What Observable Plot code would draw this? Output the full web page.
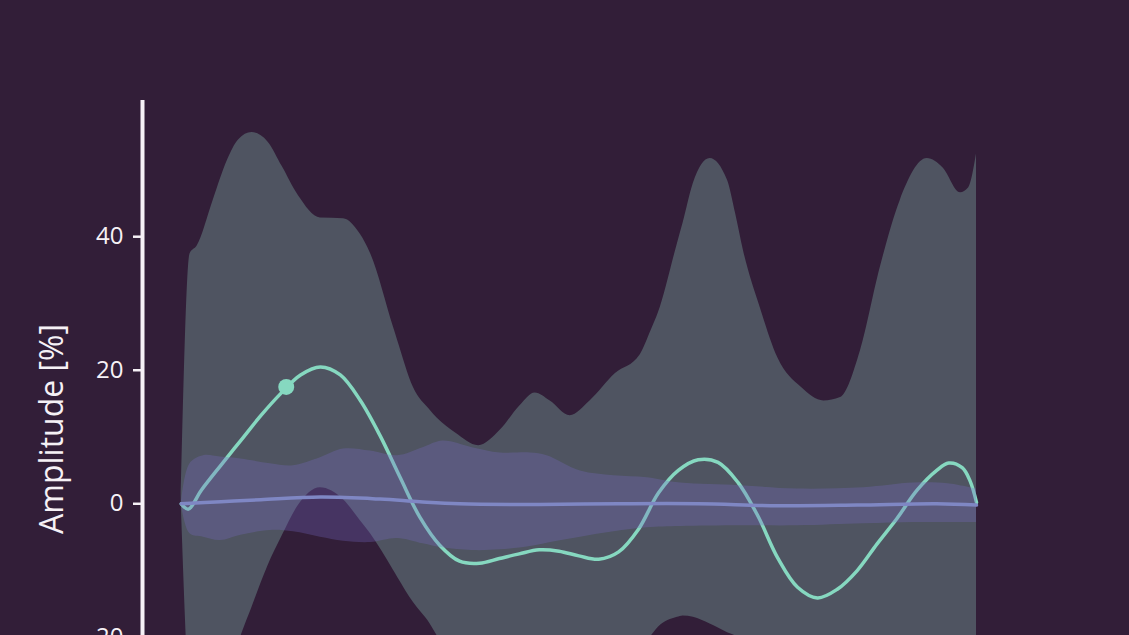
<!DOCTYPE html>
<html>
<head>
<meta charset="utf-8">
<script src="https://cdn.jsdelivr.net/npm/d3@7"></script>
<script src="https://cdn.jsdelivr.net/npm/@observablehq/plot@0.6"></script>
<style>
html, body { margin: 0; padding: 0; background: #321e38; overflow: hidden; }
#chart svg g[aria-label^="y-axis"] path,
#chart svg g[aria-label^="y-axis"] line { stroke-width: 2.5px; }
</style>
</head>
<body>
<div id="chart"></div>
<script>
// Wide (grey) envelope
const envT =     [0, 1.1, 2, 4, 5.8, 7.2, 8.9, 10.9, 12.7, 14.7, 17.5, 20.4, 22.5, 23.8, 26.7, 27.2, 29.2, 31.3, 32.2, 34.5, 37.4, 40.1, 42.6, 44.5, 46.4, 48.9, 51.4, 54.6, 57.7, 59.1, 60, 62.4, 63.1, 64.4, 66.5, 68.7, 69.7, 70.7, 72.8, 75, 78, 80.8, 82.9, 85.4, 87.9, 90.4, 93.8, 95.8, 98, 99, 100];
const envUpper = [0, 37.4, 38.6, 45.4, 51.4, 54.5, 55.6, 54.2, 50.5, 46.2, 42.8, 42.7, 40.4, 37.5, 26.4, 24.5, 17.4, 14, 12.8, 10.6, 8.7, 11, 14.7, 16.6, 15.4, 13.2, 15.4, 19.5, 22.3, 26, 28.6, 39, 42, 48, 51.7, 48.4, 43.5, 37.9, 29.4, 21.9, 17.4, 15.4, 15.9, 22.9, 35.4, 45.4, 51.7, 50.3, 46.6, 47.3, 52.4];
const envLower = [0, -30, -36, -34, -27, -21, -15.5, -9.3, -4.8, -0.3, 2.4, 0.6, -2.5, -4.5, -10, -11, -14.8, -18, -19.8, -24, -28, -30, -31, -30, -29, -28, -27, -25, -21.5, -19.8, -18.5, -17, -16.8, -17, -18, -19.3, -19.8, -21, -24, -27, -29, -30, -30, -29, -28, -27, -27, -27, -28, -28, -28];

// Narrow (purple) band
const bandT =     [0, 1.1, 2.8, 4.9, 7.5, 11.2, 14.1, 17.5, 20.4, 23.8, 27.2, 30.4, 32.9, 36.6, 40.1, 43.9, 46, 50.2, 54.4, 58.6, 62.8, 70.3, 77.5, 85.8, 92.1, 96.4, 100];
const bandUpper = [0, 6.0, 7.2, 7.0, 6.7, 6.0, 5.7, 6.9, 8.2, 7.9, 7.2, 8.4, 9.4, 8.4, 7.6, 7.6, 7.2, 4.9, 4.2, 3.9, 3.1, 2.7, 2.2, 2.4, 3.1, 3.0, 2.2];
const bandLower = [0, -4.5, -5.0, -5.5, -4.7, -4.0, -4.2, -5.0, -5.6, -5.8, -5.2, -6.0, -6.6, -7.0, -6.9, -6.4, -5.9, -5.0, -4.2, -3.6, -3.4, -3.3, -3.3, -3.0, -2.8, -2.8, -2.8];

// Mean line (flat)
const meanT = [0, 5, 10, 17.5, 25, 30, 35, 45, 55, 65, 75, 85, 95, 100];
const meanV = [0, 0.3, 0.6, 1.0, 0.7, 0.3, 0, -0.1, 0, 0, -0.3, -0.2, 0, -0.2];

// Signal line (teal)
const signalT = [0, 0.9, 2.5, 5, 7.5, 10, 12.5, 15, 17.5, 20, 22.5, 25, 27.5, 30, 32.5, 35, 37.5, 40, 42.5, 45, 47.5, 50, 52.5, 55, 57.5, 60, 62.5, 65, 67.5, 70, 72.5, 75, 77.5, 80, 82.5, 85, 87.5, 90, 92.5, 95, 96.5, 98.2, 99.2, 100];
const signalV = [0, -0.8, 2.0, 5.8, 9.5, 13.2, 16.5, 19.3, 20.5, 19.3, 15.5, 10.2, 4.0, -2.0, -6.2, -8.6, -8.9, -8.2, -7.5, -6.9, -7.1, -7.8, -8.3, -7.2, -3.8, 1.6, 5.0, 6.6, 6.2, 3.2, -1.8, -8.1, -12.5, -14.1, -12.8, -10.0, -6.0, -2.2, 2.0, 5.0, 6.1, 5.4, 3.4, 0.2];

// Highlighted point
const markT = [13.2];
const markV = [17.5];

const yTicks = [-20, 0, 20, 40];
const yLabel = "Amplitude [%]";

const rows = (xs, cols) => xs.map((t, i) => {
  const o = {t};
  for (const k in cols) o[k] = cols[k][i];
  return o;
});

const env = rows(envT, {lo: envLower, hi: envUpper});
const band = rows(bandT, {lo: bandLower, hi: bandUpper});
const mean = rows(meanT, {v: meanV});
const signal = rows(signalT, {v: signalV});
const mark = rows(markT, {v: markV});

const chart = Plot.plot({
  width: 1129,
  height: 807,
  marginLeft: 141,
  marginRight: 153,
  marginTop: 100,
  marginBottom: 50,
  style: {background: "#321e38", color: "#f6f1f6", fontFamily: "'Open Sans', sans-serif", fontSize: "24px"},
  x: {domain: [-5, 100], axis: null},
  y: {domain: [-38, 60.4], ticks: yTicks, tickSize: 8, tickPadding: 10, label: null, tickFormat: d => String(d)},
  marks: [
    Plot.areaY(env, {x: "t", y1: "lo", y2: "hi", fill: "#4f5461", curve: "monotone-x"}),
    Plot.line(signal, {x: "t", y: "v", stroke: "#86d8c0", strokeWidth: 3.5, curve: "catmull-rom"}),
    Plot.areaY(band, {x: "t", y1: "lo", y2: "hi", fill: "#776bc5", fillOpacity: 0.3, curve: "catmull-rom"}),
    Plot.line(mean, {x: "t", y: "v", stroke: "#7f87c4", strokeWidth: 3.5, curve: "catmull-rom"}),
    Plot.dot(mark, {x: "t", y: "v", r: 8, fill: "#86d8c0", stroke: "none"}),
    Plot.ruleX([-5], {y1: -38, y2: 60.4, stroke: "#f6f1f6", strokeWidth: 4, dx: 1}),
    Plot.text([yLabel], {frameAnchor: "left", rotate: -90, dx: -89, fontSize: 32, fill: "#f6f1f6", textAnchor: "middle", lineAnchor: "middle", text: d => d, style: "letter-spacing:2px"})
  ]
});
document.getElementById("chart").appendChild(chart);
</script>
</body>
</html>
